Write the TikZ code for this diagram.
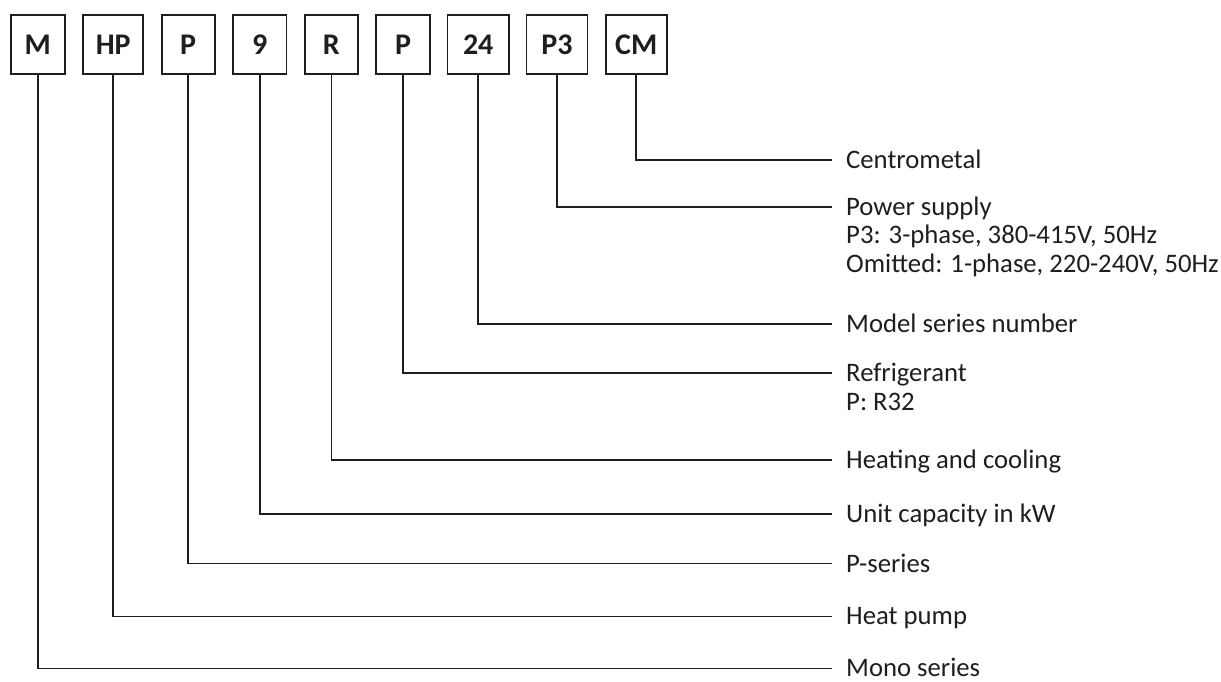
\documentclass[tikz,border=0pt]{standalone}
\usepackage{fontspec}
\setmainfont{Carlito}
\definecolor{ink}{RGB}{30,30,30}
\begin{document}
\begin{tikzpicture}[x=1pt,y=-1pt,
  codebox/.style={draw=ink, line width=1.6pt, minimum height=59pt, inner sep=0pt,
    font=\fontsize{30}{32}\selectfont\bfseries, text=ink},
  lbl/.style={anchor=base west, inner sep=0pt, font=\fontsize{26.7}{28}\selectfont, text=ink},
  conn/.style={draw=ink, line width=1.6pt}]
\useasboundingbox (0,0) rectangle (1221,682);
% code boxes
\node[codebox, minimum width=54pt]   (bM)   at (37.8,44.6)  {M};
\node[codebox, minimum width=60pt]   (bHP)  at (113.2,44.6) {HP};
\node[codebox, minimum width=53pt]   (bP)   at (188.2,44.6) {P};
\node[codebox, minimum width=53.5pt] (b9)   at (259.8,44.6) {9};
\node[codebox, minimum width=53pt]   (bR)   at (331.3,44.6) {R};
\node[codebox, minimum width=54pt]   (bPr)  at (403,44.6)   {P};
\node[codebox, minimum width=61.5pt] (b24)  at (478.2,44.6) {24};
\node[codebox, minimum width=61pt]   (bP3)  at (557,44.6)   {P3};
\node[codebox, minimum width=61pt]   (bCM)  at (636.2,44.6) {CM};
% labels
\node[lbl] (lCM)  at (846,168.5) {Centrometal};
\node[lbl] (lP3)  at (846,215.2) {Power supply};
\node[lbl] (lP3a) at (846,243.7) {P3: 3-phase, 380-415V, 50Hz};
\node[lbl] (lP3b) at (846,272.2) {Omitted: 1-phase, 220-240V, 50Hz};
\node[lbl] (l24)  at (846,332.5) {Model series number};
\node[lbl] (lPr)  at (846,381.2) {Refrigerant};
\node[lbl] (lPra) at (846,410)   {P: R32};
\node[lbl] (lR)   at (846,468.5) {Heating and cooling};
\node[lbl] (l9)   at (846,522.5) {Unit capacity in kW};
\node[lbl] (lP)   at (846,572)   {P-series};
\node[lbl] (lHP)  at (846,624.9) {Heat pump};
\node[lbl] (lM)   at (846,676.3) {Mono series};
% connector ends
\coordinate (cCM) at (831.5,160);
\coordinate (cP3) at (831.5,206.7);
\coordinate (c24) at (831.5,324);
\coordinate (cPr) at (831.5,372.7);
\coordinate (cR)  at (831.5,460);
\coordinate (c9)  at (831.5,514);
\coordinate (cP)  at (831.5,563.5);
\coordinate (cHP) at (831.5,616.4);
\coordinate (cM)  at (831.5,668.3);
% connectors
\draw[conn] (bCM.south) |- (cCM);
\draw[conn] (bP3.south) |- (cP3);
\draw[conn] (b24.south) |- (c24);
\draw[conn] (bPr.south) |- (cPr);
\draw[conn] (bR.south)  |- (cR);
\draw[conn] (b9.south)  |- (c9);
\draw[conn] (bP.south)  |- (cP);
\draw[conn] (bHP.south) |- (cHP);
\draw[conn] (bM.south)  |- (cM);
\end{tikzpicture}
\end{document}
